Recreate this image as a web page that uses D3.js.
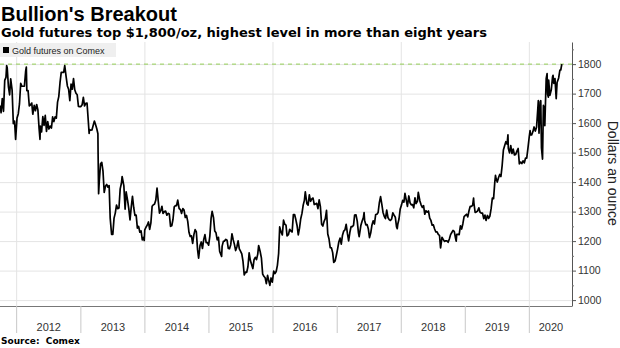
<!DOCTYPE html>
<html>
<head>
<meta charset="utf-8">
<script src="https://cdn.jsdelivr.net/npm/d3@7"></script>
<style>
  body { margin: 0; background: #fff; }
  svg { display: block; }
</style>
</head>
<body>
<div class="chart"></div>
<script>
// Gold futures on Comex, dollars an ounce
var gold2011 = [["2011-10-03",1660],["2011-10-07",1635],["2011-10-14",1683],["2011-10-21",1640],["2011-10-28",1745],["2011-11-04",1755],["2011-11-08",1795],["2011-11-11",1788],["2011-11-18",1724],["2011-11-25",1696],["2011-12-01",1750],["2011-12-09",1712],["2011-12-16",1598],["2011-12-23",1607],["2011-12-29",1545]];
var gold2012 = [["2012-01-06",1617],["2012-01-13",1631],["2012-01-20",1665],["2012-01-27",1735],["2012-02-03",1725],["2012-02-10",1725],["2012-02-17",1725],["2012-02-24",1775],["2012-02-28",1790],["2012-03-02",1710],["2012-03-09",1710],["2012-03-16",1658],["2012-03-23",1662],["2012-03-30",1668],["2012-04-05",1630],["2012-04-13",1660],["2012-04-20",1642],["2012-04-27",1663],["2012-05-04",1645],["2012-05-11",1580],["2012-05-16",1545],["2012-05-18",1590],["2012-05-25",1570],["2012-06-01",1622],["2012-06-08",1592],["2012-06-15",1626],["2012-06-22",1572],["2012-06-29",1605],["2012-07-06",1580],["2012-07-13",1590],["2012-07-20",1583],["2012-07-27",1621],["2012-08-03",1605],["2012-08-10",1621],["2012-08-17",1617],["2012-08-24",1671],["2012-08-31",1690],["2012-09-07",1737],["2012-09-14",1772],["2012-09-21",1772],["2012-09-28",1772],["2012-10-04",1795],["2012-10-12",1757],["2012-10-19",1726],["2012-10-26",1715],["2012-11-02",1676],["2012-11-09",1732],["2012-11-16",1715],["2012-11-23",1751],["2012-11-30",1713],["2012-12-07",1701],["2012-12-14",1696],["2012-12-21",1657],["2012-12-28",1656]];
var gold2013 = [["2013-01-04",1656],["2013-01-11",1662],["2013-01-18",1687],["2013-01-25",1658],["2013-02-01",1667],["2013-02-08",1668],["2013-02-15",1609],["2013-02-20",1565],["2013-02-22",1578],["2013-03-01",1576],["2013-03-08",1577],["2013-03-15",1592],["2013-03-22",1607],["2013-03-28",1596],["2013-04-05",1580],["2013-04-11",1564],["2013-04-12",1501],["2013-04-15",1361],["2013-04-19",1405],["2013-04-26",1462],["2013-05-03",1467],["2013-05-10",1437],["2013-05-17",1365],["2013-05-24",1386],["2013-05-31",1392],["2013-06-07",1383],["2013-06-14",1388],["2013-06-20",1278],["2013-06-28",1223],["2013-07-05",1223],["2013-07-12",1278],["2013-07-19",1295],["2013-07-26",1322],["2013-08-02",1310],["2013-08-09",1312],["2013-08-16",1377],["2013-08-23",1396],["2013-08-27",1419],["2013-09-06",1387],["2013-09-13",1308],["2013-09-19",1367],["2013-09-27",1339],["2013-10-04",1310],["2013-10-11",1272],["2013-10-18",1315],["2013-10-25",1352],["2013-11-01",1314],["2013-11-08",1287],["2013-11-15",1288],["2013-11-22",1244],["2013-11-29",1250],["2013-12-06",1230],["2013-12-13",1235],["2013-12-20",1204],["2013-12-27",1213],["2013-12-31",1202]];
var gold2014 = [["2014-01-03",1238],["2014-01-10",1247],["2014-01-17",1254],["2014-01-24",1265],["2014-01-31",1240],["2014-02-07",1262],["2014-02-14",1318],["2014-02-21",1323],["2014-02-28",1326],["2014-03-07",1339],["2014-03-14",1380],["2014-03-21",1335],["2014-03-28",1295],["2014-04-04",1303],["2014-04-11",1318],["2014-04-17",1294],["2014-04-25",1300],["2014-05-02",1302],["2014-05-09",1288],["2014-05-16",1294],["2014-05-23",1292],["2014-05-30",1250],["2014-06-06",1252],["2014-06-13",1274],["2014-06-20",1316],["2014-06-27",1320],["2014-07-03",1320],["2014-07-10",1339],["2014-07-18",1310],["2014-07-25",1307],["2014-08-01",1294],["2014-08-08",1310],["2014-08-15",1305],["2014-08-22",1280],["2014-08-29",1287],["2014-09-05",1267],["2014-09-12",1230],["2014-09-19",1216],["2014-09-26",1218],["2014-10-03",1192],["2014-10-10",1222],["2014-10-17",1239],["2014-10-24",1231],["2014-10-31",1171],["2014-11-06",1142],["2014-11-14",1185],["2014-11-21",1197],["2014-11-28",1175],["2014-12-05",1205],["2014-12-12",1222],["2014-12-19",1195],["2014-12-26",1195]];
var gold2015 = [["2015-01-02",1186],["2015-01-09",1217],["2015-01-16",1277],["2015-01-22",1301],["2015-01-30",1279],["2015-02-06",1234],["2015-02-13",1228],["2015-02-20",1204],["2015-02-27",1213],["2015-03-06",1165],["2015-03-17",1148],["2015-03-20",1183],["2015-03-27",1199],["2015-04-02",1200],["2015-04-10",1206],["2015-04-17",1203],["2015-04-24",1175],["2015-05-01",1174],["2015-05-08",1188],["2015-05-15",1225],["2015-05-22",1205],["2015-05-29",1189],["2015-06-05",1168],["2015-06-12",1180],["2015-06-19",1201],["2015-06-26",1174],["2015-07-02",1167],["2015-07-10",1157],["2015-07-17",1131],["2015-07-24",1085],["2015-07-31",1095],["2015-08-07",1094],["2015-08-14",1113],["2015-08-21",1160],["2015-08-28",1134],["2015-09-04",1121],["2015-09-11",1107],["2015-09-18",1137],["2015-09-25",1145],["2015-10-02",1137],["2015-10-09",1156],["2015-10-14",1185],["2015-10-23",1164],["2015-10-30",1142],["2015-11-06",1088],["2015-11-13",1081],["2015-11-20",1076],["2015-11-27",1056],["2015-12-04",1084],["2015-12-11",1065],["2015-12-17",1050],["2015-12-24",1075],["2015-12-31",1061]];
var gold2016 = [["2016-01-08",1098],["2016-01-15",1090],["2016-01-22",1097],["2016-01-29",1118],["2016-02-05",1158],["2016-02-11",1248],["2016-02-19",1230],["2016-02-26",1221],["2016-03-04",1271],["2016-03-11",1257],["2016-03-18",1254],["2016-03-24",1218],["2016-04-01",1222],["2016-04-08",1240],["2016-04-15",1234],["2016-04-22",1231],["2016-04-29",1290],["2016-05-06",1290],["2016-05-13",1273],["2016-05-20",1253],["2016-05-27",1221],["2016-06-03",1244],["2016-06-10",1276],["2016-06-17",1294],["2016-06-24",1322],["2016-07-01",1339],["2016-07-06",1367],["2016-07-15",1327],["2016-07-22",1322],["2016-07-29",1357],["2016-08-05",1335],["2016-08-12",1343],["2016-08-19",1346],["2016-08-26",1324],["2016-09-02",1326],["2016-09-09",1328],["2016-09-16",1310],["2016-09-23",1340],["2016-09-30",1317],["2016-10-07",1257],["2016-10-14",1251],["2016-10-21",1267],["2016-10-28",1276],["2016-11-04",1304],["2016-11-11",1224],["2016-11-18",1208],["2016-11-25",1178],["2016-12-02",1177],["2016-12-09",1161],["2016-12-15",1128],["2016-12-23",1133],["2016-12-30",1152]];
var gold2017 = [["2017-01-06",1173],["2017-01-13",1197],["2017-01-20",1210],["2017-01-27",1190],["2017-02-03",1220],["2017-02-10",1234],["2017-02-17",1238],["2017-02-24",1257],["2017-03-03",1226],["2017-03-10",1201],["2017-03-17",1230],["2017-03-24",1249],["2017-03-31",1249],["2017-04-07",1254],["2017-04-13",1288],["2017-04-21",1289],["2017-04-28",1268],["2017-05-05",1228],["2017-05-09",1215],["2017-05-19",1254],["2017-05-26",1268],["2017-06-02",1280],["2017-06-06",1297],["2017-06-09",1271],["2017-06-16",1255],["2017-06-23",1256],["2017-06-30",1242],["2017-07-07",1212],["2017-07-14",1228],["2017-07-21",1255],["2017-07-28",1269],["2017-08-04",1258],["2017-08-11",1290],["2017-08-18",1291],["2017-08-25",1297],["2017-09-01",1330],["2017-09-08",1351],["2017-09-15",1325],["2017-09-22",1297],["2017-09-29",1284],["2017-10-06",1276],["2017-10-13",1305],["2017-10-20",1280],["2017-10-27",1273],["2017-11-03",1270],["2017-11-10",1275],["2017-11-17",1296],["2017-11-24",1288],["2017-12-01",1281],["2017-12-08",1248],["2017-12-12",1242],["2017-12-15",1257],["2017-12-22",1275],["2017-12-29",1309]];
var gold2018 = [["2018-01-05",1322],["2018-01-12",1338],["2018-01-19",1332],["2018-01-25",1362],["2018-02-02",1337],["2018-02-08",1318],["2018-02-16",1353],["2018-02-23",1330],["2018-03-02",1323],["2018-03-09",1324],["2018-03-16",1313],["2018-03-23",1347],["2018-03-29",1327],["2018-04-06",1335],["2018-04-11",1365],["2018-04-20",1336],["2018-04-27",1323],["2018-05-04",1314],["2018-05-11",1320],["2018-05-18",1291],["2018-05-25",1303],["2018-06-01",1298],["2018-06-08",1302],["2018-06-15",1278],["2018-06-22",1270],["2018-06-29",1254],["2018-07-06",1255],["2018-07-13",1241],["2018-07-20",1231],["2018-07-27",1231],["2018-08-03",1223],["2018-08-10",1219],["2018-08-16",1177],["2018-08-24",1213],["2018-08-31",1206],["2018-09-07",1199],["2018-09-14",1201],["2018-09-21",1201],["2018-09-28",1196],["2018-10-05",1207],["2018-10-12",1222],["2018-10-19",1229],["2018-10-26",1236],["2018-11-02",1233],["2018-11-09",1210],["2018-11-13",1200],["2018-11-16",1223],["2018-11-23",1223],["2018-11-30",1222],["2018-12-07",1252],["2018-12-14",1241],["2018-12-21",1259],["2018-12-28",1283]];
var gold2019 = [["2019-01-04",1287],["2019-01-11",1291],["2019-01-18",1282],["2019-01-25",1303],["2019-02-01",1318],["2019-02-08",1318],["2019-02-15",1322],["2019-02-20",1346],["2019-02-22",1329],["2019-03-01",1297],["2019-03-08",1299],["2019-03-15",1302],["2019-03-22",1313],["2019-03-29",1298],["2019-04-05",1295],["2019-04-12",1295],["2019-04-19",1276],["2019-04-26",1288],["2019-05-02",1270],["2019-05-10",1287],["2019-05-17",1277],["2019-05-24",1285],["2019-05-31",1310],["2019-06-07",1346],["2019-06-14",1344],["2019-06-21",1400],["2019-06-25",1423],["2019-06-28",1413],["2019-07-05",1400],["2019-07-12",1415],["2019-07-19",1426],["2019-07-26",1419],["2019-08-02",1457],["2019-08-09",1509],["2019-08-16",1523],["2019-08-23",1537],["2019-08-30",1529],["2019-09-04",1560],["2019-09-06",1515],["2019-09-13",1499],["2019-09-20",1524],["2019-09-27",1497],["2019-10-04",1512],["2019-10-11",1492],["2019-10-18",1494],["2019-10-25",1505],["2019-11-01",1514],["2019-11-08",1462],["2019-11-15",1468],["2019-11-22",1463],["2019-11-29",1472],["2019-12-06",1465],["2019-12-13",1481],["2019-12-20",1481],["2019-12-27",1515]];
var gold2020 = [["2020-01-03",1552],["2020-01-08",1575],["2020-01-10",1560],["2020-01-17",1560],["2020-01-24",1571],["2020-01-31",1587],["2020-02-07",1573],["2020-02-14",1586],["2020-02-21",1648],["2020-02-24",1676],["2020-02-28",1566],["2020-03-06",1672],["2020-03-09",1676],["2020-03-13",1516],["2020-03-19",1478],["2020-03-24",1660],["2020-03-27",1654],["2020-04-01",1591],["2020-04-06",1693],["2020-04-09",1752],["2020-04-14",1768],["2020-04-17",1698],["2020-04-21",1688],["2020-04-23",1746],["2020-04-30",1694],["2020-05-08",1713],["2020-05-15",1756],["2020-05-18",1762],["2020-05-22",1735],["2020-05-29",1751],["2020-06-05",1683],["2020-06-10",1738],["2020-06-19",1753],["2020-06-26",1780],["2020-07-01",1780],["2020-07-07",1800]];

var yearTicks = ["2012","2013","2014","2015","2016","2017","2018","2019","2020"];
var gridYears = ["2012","2014","2016","2018","2020"];
var yTicks = [1000, 1100, 1200, 1300, 1400, 1500, 1600, 1700, 1800];
var yMinorTicks = [1050, 1150, 1250, 1350, 1450, 1550, 1650, 1750, 1850];
var refLevel = 1800;

// Setup chart dimension
var svgWidth = 620;
var svgHeight = 348;
var margin = { top: 42, right: 48, bottom: 42, left: 0 };
var width = svgWidth - margin.left - margin.right;
var height = svgHeight - margin.top - margin.bottom;

var parseDate = d3.timeParse("%Y-%m-%d");
var parseYear = d3.timeParse("%Y");

var myData = [].concat(gold2011, gold2012, gold2013, gold2014, gold2015,
  gold2016, gold2017, gold2018, gold2019, gold2020).map(function(d) {
  return { date: parseDate(d[0]), price: +d[1] };
});

var svg = d3.select(".chart")
  .append("svg")
  .attr("width", svgWidth)
  .attr("height", svgHeight);

// Titles
svg.append("text")
  .attr("x", 1).attr("y", 21)
  .style("font-family", "'Liberation Sans', Arial, sans-serif")
  .style("font-weight", "bold").style("font-size", "20px").attr("fill", "#000")
  .text("Bullion's Breakout");

svg.append("text")
  .attr("x", 1).attr("y", 37)
  .style("font-family", "'DejaVu Sans', Verdana, sans-serif")
  .style("font-weight", "bold").style("font-size", "13px").attr("fill", "#000")
  .text("Gold futures top $1,800/oz, highest level in more than eight years");

svg.append("text")
  .attr("x", 1).attr("y", 344)
  .style("font-family", "'DejaVu Sans', Verdana, sans-serif")
  .style("font-weight", "bold").style("font-size", "9px").attr("fill", "#000")
  .attr("xml:space", "preserve")
  .text("Source:  Comex");

var chart = svg.append("g")
  .attr("transform", "translate(" + margin.left + "," + margin.top + ")");

// Scales
var xTimeScale = d3.scaleTime()
  .domain([parseDate("2011-10-01"), parseDate("2020-09-03")])
  .range([0, width]);
var yLinearScale = d3.scaleLinear()
  .domain([980, 1875])
  .range([height, 0]);

// Gridlines
chart.append("g")
  .attr("class", "grid")
  .call(d3.axisLeft(yLinearScale).tickValues(yTicks).tickSize(-width).tickFormat(""))
  .call(function(g) { g.select(".domain").remove(); })
  .selectAll("line").attr("stroke", "#e4e4e4");

chart.append("g")
  .attr("class", "grid")
  .attr("transform", "translate(0," + height + ")")
  .call(d3.axisBottom(xTimeScale).tickValues(gridYears.map(parseYear)).tickSize(-height).tickFormat(""))
  .call(function(g) { g.select(".domain").remove(); })
  .selectAll("line").attr("stroke", "#e4e4e4");

// Legend
var legend = chart.append("g").attr("transform", "translate(0,1)");
legend.append("rect")
  .attr("x", 0).attr("y", 0).attr("width", 116).attr("height", 14)
  .attr("fill", "#efefef");
legend.append("rect")
  .attr("x", 3).attr("y", 4).attr("width", 6).attr("height", 6)
  .attr("fill", "#000");
legend.append("text")
  .attr("x", 12).attr("y", 10.5)
  .style("font-family", "'Liberation Sans', Arial, sans-serif")
  .style("font-size", "9px").attr("fill", "#222")
  .text("Gold futures on Comex");

// 1,800 reference line
chart.append("line")
  .attr("x1", 0).attr("x2", width)
  .attr("y1", yLinearScale(refLevel)).attr("y2", yLinearScale(refLevel))
  .attr("stroke", "#93cf55").attr("stroke-width", 1)
  .attr("stroke-dasharray", "4,4");

// Price line
var line = d3.line()
  .x(function(d) { return xTimeScale(d.date); })
  .y(function(d) { return yLinearScale(d.price); });

chart.append("path")
  .datum(myData)
  .attr("d", line)
  .attr("fill", "none")
  .attr("stroke", "#000")
  .attr("stroke-width", 1.7)
  .attr("stroke-linejoin", "round");

// X axis: long year ticks, labels centred in each year
var bottomAxis = chart.append("g")
  .attr("transform", "translate(0," + height + ")")
  .call(d3.axisBottom(xTimeScale).tickValues(yearTicks.map(parseYear)).tickSize(27).tickFormat(""));
bottomAxis.select(".domain").attr("stroke", "#777").attr("d", "M0,0.5H" + width);
bottomAxis.selectAll(".tick line").attr("stroke", "#c8c8c8");

var end = xTimeScale.domain()[1];
var midYears = yearTicks.map(function(yr) {
  var a = parseYear(yr);
  var b = parseYear(String(+yr + 1));
  if (b > end) b = end;
  return new Date((a.getTime() + b.getTime()) / 2);
});
var labelAxis = chart.append("g")
  .attr("transform", "translate(0," + height + ")")
  .call(d3.axisBottom(xTimeScale).tickValues(midYears).tickSize(0).tickPadding(17)
    .tickFormat(d3.timeFormat("%Y")));
labelAxis.select(".domain").remove();
labelAxis.selectAll("text")
  .style("font-family", "'Liberation Sans', Arial, sans-serif")
  .style("font-size", "11px").attr("fill", "#333");

// Y axis on the right
var rightAxis = chart.append("g")
  .attr("transform", "translate(" + width + ",0)")
  .call(d3.axisRight(yLinearScale).tickValues(yTicks).tickSize(4).tickPadding(2)
    .tickSizeOuter(0).tickFormat(d3.format("d")));
rightAxis.select(".domain").attr("stroke", "#555");
rightAxis.selectAll(".tick line").attr("stroke", "#555");
rightAxis.selectAll("text")
  .style("font-family", "'Liberation Sans', Arial, sans-serif")
  .style("font-size", "10.5px").attr("fill", "#333");

chart.append("g")
  .attr("transform", "translate(" + width + ",0)")
  .call(d3.axisRight(yLinearScale).tickValues(yMinorTicks.filter(function(v) { return v < 1875; }))
    .tickSize(2).tickFormat("").tickSizeOuter(0))
  .call(function(g) { g.select(".domain").remove(); })
  .selectAll("line").attr("stroke", "#777");

// Axis title
chart.append("text")
  .attr("transform", "translate(" + (width + 36) + "," + (yLinearScale(1430)) + ") rotate(90)")
  .attr("text-anchor", "middle")
  .style("font-family", "'Liberation Sans', Arial, sans-serif")
  .style("font-size", "14px").attr("fill", "#222")
  .text("Dollars an ounce");
</script>
</body>
</html>
